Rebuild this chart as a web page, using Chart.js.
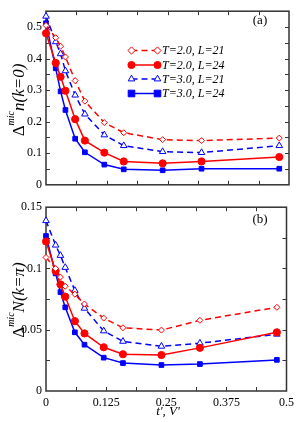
<!DOCTYPE html>
<html><head><meta charset="utf-8">
<script src="https://cdn.jsdelivr.net/npm/chart.js@4/dist/chart.umd.min.js"></script>
<style>
html,body{margin:0;padding:0;background:#fff;width:299px;height:422px;overflow:hidden}
canvas{position:absolute;left:0}
#c1{top:0}
#c2{top:196px}
</style></head><body>
<canvas id="c1" width="299" height="196"></canvas>
<canvas id="c2" width="299" height="226"></canvas>
<script>
// ---- data ----
const xValues = [0, 0.02, 0.03, 0.04, 0.06, 0.08, 0.12, 0.16, 0.24, 0.32, 0.48];
const seriesNames = ["T=2.0, L=21", "T=2.0, L=24", "T=3.0, L=21", "T=3.0, L=24"];
// panel (a): Δmic n(k=0)
const topT2L21 = [0.505, 0.466, 0.439, 0.405, 0.330, 0.265, 0.197, 0.165, 0.143, 0.140, 0.148];
const topT2L24 = [0.480, 0.386, 0.342, 0.298, 0.208, 0.140, 0.102, 0.074, 0.068, 0.074, 0.088];
const topT3L21 = [0.534, 0.453, 0.415, 0.361, 0.284, 0.224, 0.158, 0.124, 0.105, 0.102, 0.124];
const topT3L24 = [0.512, 0.369, 0.296, 0.237, 0.146, 0.103, 0.064, 0.049, 0.046, 0.051, 0.051];
// panel (b): Δmic N(k=π)
const botT2L21 = [0.109, 0.100, 0.093, 0.0855, 0.079, 0.071, 0.0595, 0.0516, 0.0497, 0.0577, 0.0683];
const botT2L24 = [0.122, 0.098, 0.087, 0.077, 0.057, 0.047, 0.0357, 0.030, 0.0294, 0.0352, 0.0479];
const botT3L21 = [0.139, 0.119, 0.1106, 0.1008, 0.082, 0.0675, 0.049, 0.0405, 0.0365, 0.039, 0.0463];
const botT3L24 = [0.1265, 0.096, 0.0807, 0.0683, 0.0479, 0.0378, 0.0272, 0.0228, 0.0212, 0.022, 0.0254];
// ticks
const xTicks = [0, 0.125, 0.25, 0.375, 0.5];
const xTickLabels = ["0", "0.125", "0.25", "0.375", "0.5"];
const xMinorTicks = [0.0625, 0.125, 0.1875, 0.25, 0.3125, 0.375, 0.4375];
const yTopTicks = [0, 0.1, 0.2, 0.3, 0.4, 0.5];
const yTopTickLabels = ["0", "0.1", "0.2", "0.3", "0.4", "0.5"];
const yTopMinorTicks = [0.05, 0.1, 0.15, 0.2, 0.25, 0.3, 0.35, 0.4, 0.45, 0.5];
const yBotTicks = [0, 0.05, 0.1, 0.15];
const yBotTickLabels = ["0", "0.05", "0.1", "0.15"];
const yBotMinorTicks = [0.025, 0.05, 0.075, 0.1, 0.125];

// ---- styles ----
const RED = '#ff0000', BLUE = '#0000ff';
const styles = [
  {color: RED, dash: [6, 4], point: 'rectRot', fill: '#fff', r: 3},
  {color: RED, dash: [], point: 'circle', fill: RED, r: 3.6},
  {color: BLUE, dash: [6, 4], point: 'triangle', fill: '#fff', r: 3.8},
  {color: BLUE, dash: [], point: 'rect', fill: BLUE, r: 3.3}
];
Chart.defaults.font.family = "'Liberation Serif', 'Times New Roman', serif";
Chart.defaults.font.size = 12;
Chart.defaults.color = '#000';

function makeDatasets(arrs) {
  return arrs.map((vals, i) => ({
    label: seriesNames[i],
    data: xValues.map((x, j) => ({x: x, y: vals[j]})),
    showLine: true,
    borderColor: styles[i].color,
    borderWidth: 1.5,
    borderDash: styles[i].dash,
    pointStyle: styles[i].point,
    pointRadius: styles[i].r,
    pointBorderWidth: 1,
    pointBackgroundColor: styles[i].fill,
    pointBorderColor: styles[i].color,
    tension: 0,
    clip: false
  }));
}

const framePlugin = {
  id: 'frame',
  beforeDatasetsDraw(chart, args, o) {
    const {ctx, chartArea: a, scales} = chart;
    ctx.save();
    ctx.strokeStyle = '#333';
    ctx.lineWidth = 1.5;
    ctx.strokeRect(a.left, a.top, a.right - a.left, a.bottom - a.top);
    ctx.lineWidth = 1;
    const L = 4;
    ctx.beginPath();
    o.xMinor.forEach(v => {
      const x = Math.round(scales.x.getPixelForValue(v)) + 0.5;
      ctx.moveTo(x, a.bottom); ctx.lineTo(x, a.bottom - L);
      ctx.moveTo(x, a.top); ctx.lineTo(x, a.top + L);
    });
    o.yMinor.forEach(v => {
      const y = Math.round(scales.y.getPixelForValue(v)) + 0.5;
      ctx.moveTo(a.left, y); ctx.lineTo(a.left + L, y);
      ctx.moveTo(a.right, y); ctx.lineTo(a.right - L, y);
    });
    ctx.stroke();
    // panel label
    ctx.fillStyle = '#000';
    ctx.font = "13px 'Liberation Serif', serif";
    ctx.textAlign = 'center';
    ctx.textBaseline = 'middle';
    ctx.fillText(o.panel, 260, o.panelY);
    ctx.restore();
  }
};

function drawMarker(ctx, st, x, y) {
  ctx.save();
  ctx.setLineDash([]);
  ctx.fillStyle = st.fill; ctx.strokeStyle = st.color; ctx.lineWidth = 1;
  ctx.beginPath();
  const r = st.r;
  if (st.point === 'circle') ctx.arc(x, y, r, 0, Math.PI * 2);
  else if (st.point === 'rect') ctx.rect(x - r, y - r, 2 * r, 2 * r);
  else if (st.point === 'rectRot') { ctx.moveTo(x, y - r * 1.2); ctx.lineTo(x + r * 1.2, y); ctx.lineTo(x, y + r * 1.2); ctx.lineTo(x - r * 1.2, y); ctx.closePath(); }
  else if (st.point === 'triangle') { ctx.moveTo(x, y - r); ctx.lineTo(x + r * 0.87, y + r * 0.5); ctx.lineTo(x - r * 0.87, y + r * 0.5); ctx.closePath(); }
  ctx.fill(); ctx.stroke();
  ctx.restore();
}

const legendPlugin = {
  id: 'customLegend',
  afterDraw(chart, args, o) {
    if (!o.show) return;
    const ctx = chart.ctx;
    const rows = [50.5, 65, 79, 93.5];
    ctx.save();
    seriesNames.forEach((name, i) => {
      const st = styles[i], y = rows[i];
      ctx.strokeStyle = st.color; ctx.lineWidth = 1.5;
      ctx.setLineDash(st.dash);
      ctx.beginPath(); ctx.moveTo(131.5, y); ctx.lineTo(157.5, y); ctx.stroke();
      drawMarker(ctx, st, 131.5, y);
      drawMarker(ctx, st, 157.5, y);
      ctx.fillStyle = '#000';
      ctx.font = "italic 12px 'Liberation Serif', serif";
      ctx.textAlign = 'left'; ctx.textBaseline = 'middle';
      ctx.fillText(name, 162, y + 0.5);
    });
    ctx.restore();
  }
};

const titlePlugin = {
  id: 'axisTitles',
  afterDraw(chart, args, o) {
    const ctx = chart.ctx;
    ctx.save();
    ctx.fillStyle = '#000';
    // y title rotated
    const parts = [
      {t: 'Δ', f: "17px 'Liberation Serif', serif", dy: 0},
      {t: 'mic', f: "italic 10px 'Liberation Serif', serif", dy: -10},
      {t: o.yRest, f: "italic 17px 'Liberation Serif', serif", dy: 0}
    ];
    let total = 0;
    parts.forEach(p => { ctx.font = p.f; p.w = ctx.measureText(p.t).width; total += p.w; });
    ctx.translate(o.yX, o.yCenter);
    ctx.rotate(-Math.PI / 2);
    ctx.textBaseline = 'alphabetic'; ctx.textAlign = 'left';
    let x = -total / 2;
    parts.forEach(p => { ctx.font = p.f; ctx.fillText(p.t, x, p.dy); x += p.w; });
    ctx.restore();
    if (o.xTitle) {
      ctx.save();
      ctx.fillStyle = '#000';
      ctx.font = "italic 13px 'Liberation Serif', serif";
      ctx.textAlign = 'center'; ctx.textBaseline = 'middle';
      ctx.fillText(o.xTitle, 168, o.xTitleY);
      ctx.restore();
    }
  }
};

function makeChart(id, arrs, cfg) {
  return new Chart(document.getElementById(id), {
    type: 'scatter',
    data: {datasets: makeDatasets(arrs)},
    options: {
      responsive: false,
      animation: false,
      events: [],
      layout: {padding: cfg.padding},
      plugins: {
        legend: {display: false},
        tooltip: {enabled: false},
        frame: {xMinor: xMinorTicks, yMinor: cfg.yMinor, panel: cfg.panel, panelY: cfg.panelY},
        customLegend: {show: cfg.legend},
        axisTitles: {yRest: cfg.yRest, yX: 24, yCenter: cfg.yCenter, xTitle: cfg.xTitle, xTitleY: cfg.xTitleY}
      },
      scales: {
        x: {
          type: 'linear', min: 0, max: 0.5,
          display: cfg.showX,
          grid: {display: false, drawTicks: false},
          border: {display: false},
          afterBuildTicks: s => { s.ticks = xTicks.map(v => ({value: v})); },
          afterFit: s => { s.height = cfg.xHeight; },
          ticks: {padding: 5, maxRotation: 0, autoSkip: false, callback: (v, i) => xTickLabels[i],
                  font: {size: 12}}
        },
        y: {
          type: 'linear', min: 0, max: cfg.yMax,
          grid: {display: false, drawTicks: false},
          border: {display: false},
          afterBuildTicks: s => { s.ticks = cfg.yTicks.map(v => ({value: v})); },
          afterFit: s => { s.width = 46; },
          ticks: {padding: 4, autoSkip: false, callback: (v, i) => cfg.yLabels[i], font: {size: 12}}
        }
      }
    },
    plugins: [framePlugin, legendPlugin, titlePlugin]
  });
}

makeChart('c1', [topT2L21, topT2L24, topT3L21, topT3L24], {
  padding: {left: 0, right: 10, top: 2, bottom: 6},
  showX: false, xHeight: 0, yMax: 0.55,
  yTicks: yTopTicks, yLabels: yTopTickLabels, yMinor: yTopMinorTicks,
  panel: '(a)', panelY: 21, legend: true,
  yRest: 'n(k=0)', yCenter: 100, xTitle: null
});
makeChart('c2', [botT2L21, botT2L24, botT3L21, botT3L24], {
  padding: {left: 0, right: 10, top: 4, bottom: 0},
  showX: true, xHeight: 31, yMax: 0.15,
  yTicks: yBotTicks, yLabels: yBotTickLabels, yMinor: yBotMinorTicks,
  panel: '(b)', panelY: 24, legend: false,
  yRest: 'N(k=π)', yCenter: 104, xTitle: "t', V'", xTitleY: 216
});
</script>
</body></html>
